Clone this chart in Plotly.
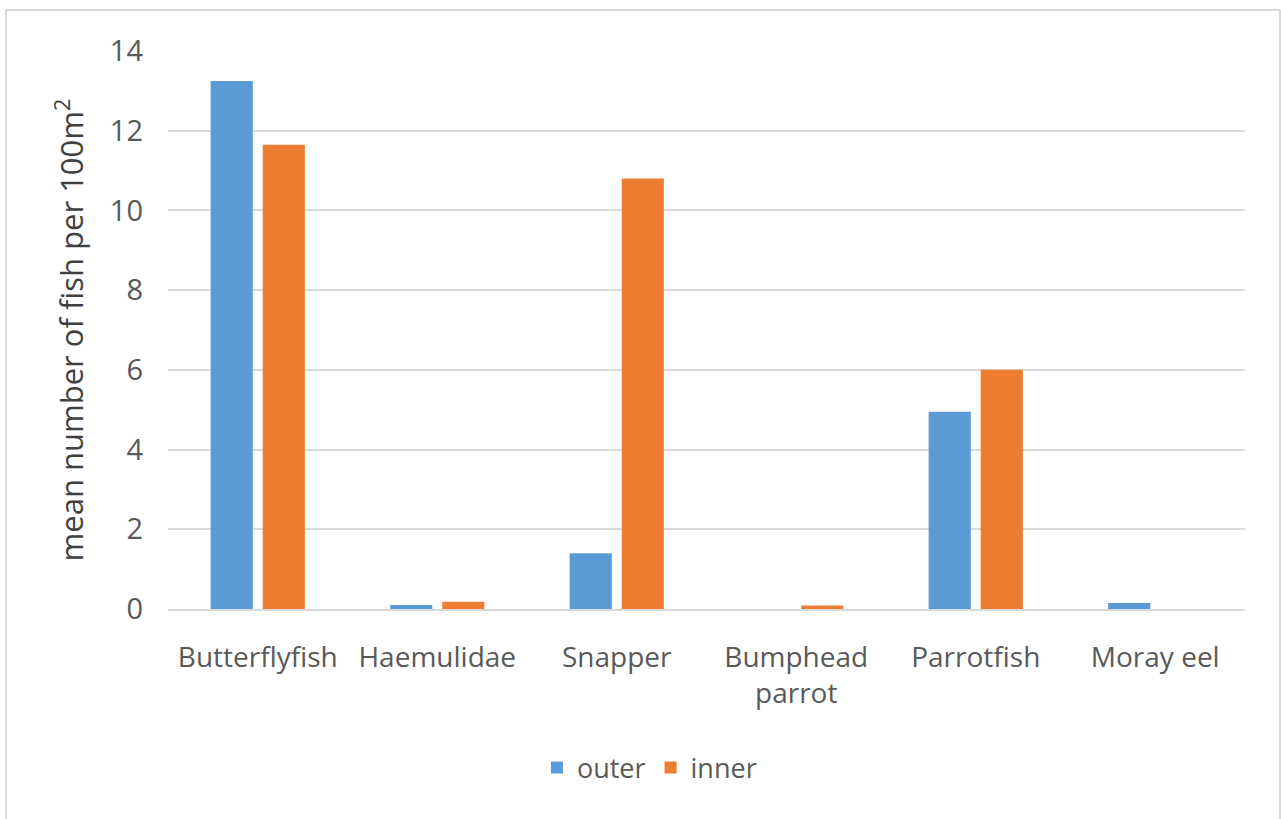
import plotly.graph_objects as go

categories = ["Butterflyfish", "Haemulidae", "Snapper", "Bumphead<br>parrot", "Parrotfish", "Moray eel"]
outer_values = [13.25, 0.1, 1.4, 0.0, 4.95, 0.15]
inner_values = [11.65, 0.18, 10.8, 0.09, 6.0, 0.0]
y_ticks = [0, 2, 4, 6, 8, 10, 12, 14]

FONT = "Open Sans, Liberation Sans, sans-serif"
GRAY = "#595959"

fig = go.Figure()
fig.add_trace(go.Bar(name="outer", x=categories, y=outer_values, marker_color="#5b9bd5", marker_line_width=0))
fig.add_trace(go.Bar(name="inner", x=categories, y=inner_values, marker_color="#ed7d31", marker_line_width=0))

W, H = 1281, 819
L, R, T, B = 168, 36, 51, 210
pw, ph = W - L - R, H - T - B

def px_x(p):
    return (p - L) / pw

def px_y(p):
    return (H - B - p) / ph

border = dict(color="#d9d9d9", width=2)
fig.add_shape(type="line", xref="paper", yref="paper", x0=px_x(6), x1=px_x(6), y0=px_y(10), y1=px_y(830), line=border)
fig.add_shape(type="line", xref="paper", yref="paper", x0=px_x(6), x1=px_x(1280), y0=px_y(10), y1=px_y(10), line=border)
fig.add_shape(type="line", xref="paper", yref="paper", x0=px_x(1280), x1=px_x(1280), y0=px_y(10), y1=px_y(830), line=border)

fig.update_layout(
    width=W, height=H,
    margin=dict(l=L, r=R, t=T, b=B, autoexpand=False),
    paper_bgcolor="white", plot_bgcolor="white",
    barmode="group", bargap=0.42, bargroupgap=0.19,
    font=dict(family=FONT, color=GRAY, size=24),
    legend=dict(orientation="h", x=0.447, xanchor="center", y=px_y(768), yanchor="middle",
                font=dict(size=27, color=GRAY), traceorder="normal"),
    showlegend=True,
)
fig.update_yaxes(range=[0, 14], tickvals=y_ticks, showgrid=True, gridcolor="#d9d9d9", gridwidth=1.5,
                 zeroline=False, showline=False, ticks="", tickfont=dict(size=29, color=GRAY),
                 ticklabelstandoff=24,
                 title=dict(text="mean number of fish per 100m<sup>2</sup>", font=dict(size=31, color="#404040"), standoff=16))
fig.update_xaxes(showline=True, linecolor="#d9d9d9", linewidth=2, ticks="", tickfont=dict(size=28, color=GRAY),
                 ticklabelstandoff=22)

fig.write_html("out.html")
